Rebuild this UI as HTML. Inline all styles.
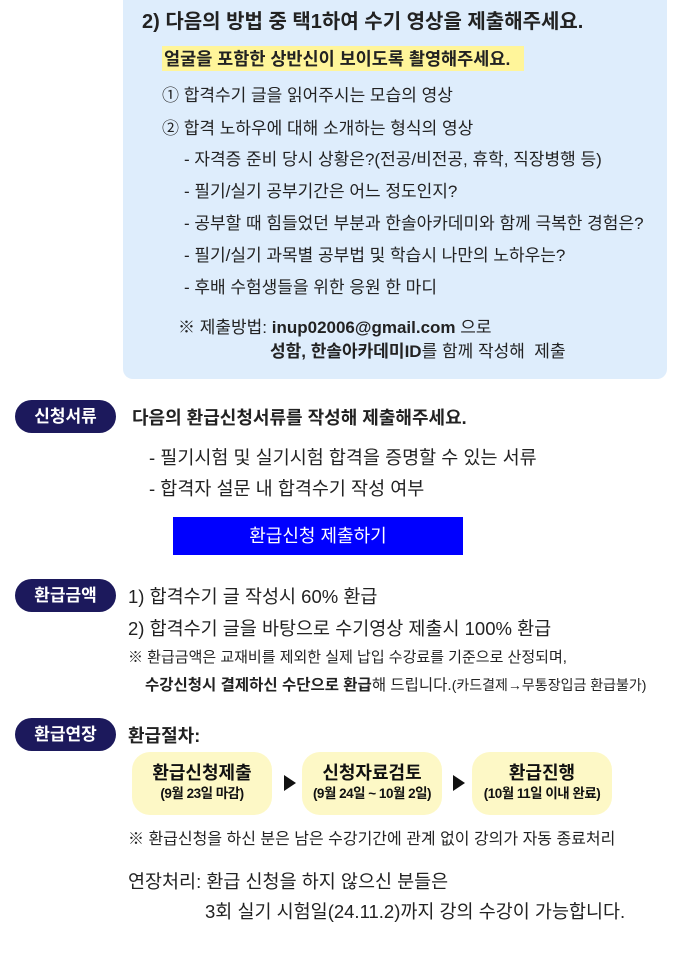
<!DOCTYPE html>
<html><head><meta charset="utf-8"><style>
*{margin:0;padding:0;box-sizing:border-box}
body{width:700px;height:968px;background:#fff;position:relative;overflow:hidden;font-family:"Liberation Sans","Noto Sans CJK KR",sans-serif;color:#222;letter-spacing:0}
.a{position:absolute;white-space:nowrap}
.b{font-weight:bold}
.box{position:absolute;left:123px;top:-10px;width:544px;height:389px;background:#deedfc;border-radius:10px}
.pill{position:absolute;left:15px;width:101px;height:33px;border-radius:17px;background:#1c195c;color:#fff;font-weight:bold;font-size:17px;text-align:center;line-height:33px}
.y{position:absolute;top:752px;width:140px;height:63px;border-radius:18px;background:#fdf8c6;text-align:center;color:#111}
.y .t{font-weight:bold;font-size:18px;margin-top:9px;line-height:24px}
.y .s{font-weight:bold;font-size:13.5px;line-height:18px;letter-spacing:-0.5px}
.tri{position:absolute;top:775px;width:0;height:0;border-left:12px solid #111;border-top:8px solid transparent;border-bottom:8px solid transparent}
</style></head><body>
<div class="box"></div>
<div class="a b" style="left:142px;top:5px;font-size:20px">2) 다음의 방법 중 택1하여 수기 영상을 제출해주세요.</div>
<div class="a b" style="left:162px;top:46px;font-size:17.5px;background:#fff59a;padding:0 14px 0 2px">얼굴을 포함한 상반신이 보이도록 촬영해주세요.</div>
<div class="a" style="left:162px;top:81px;font-size:17px">① 합격수기 글을 읽어주시는 모습의 영상</div>
<div class="a" style="left:162px;top:114px;font-size:17px">② 합격 노하우에 대해 소개하는 형식의 영상</div>
<div class="a" style="left:184px;top:145px;font-size:17px">- 자격증 준비 당시 상황은?(전공/비전공, 휴학, 직장병행 등)</div>
<div class="a" style="left:184px;top:177px;font-size:17px">- 필기/실기 공부기간은 어느 정도인지?</div>
<div class="a" style="left:184px;top:209px;font-size:17px">- 공부할 때 힘들었던 부분과 한솔아카데미와 함께 극복한 경험은?</div>
<div class="a" style="left:184px;top:241px;font-size:17px">- 필기/실기 과목별 공부법 및 학습시 나만의 노하우는?</div>
<div class="a" style="left:184px;top:273px;font-size:17px">- 후배 수험생들을 위한 응원 한 마디</div>
<div class="a" style="left:178px;top:313px;font-size:17px">※ 제출방법: <b>inup02006@gmail.com</b> 으로</div>
<div class="a" style="left:270px;top:337px;font-size:17px"><b>성함, 한솔아카데미ID</b>를 함께 작성해&nbsp; 제출</div>

<div class="pill" style="top:400px">신청서류</div>
<div class="a b" style="left:132px;top:404px;font-size:18px">다음의 환급신청서류를 작성해 제출해주세요.</div>
<div class="a" style="left:149px;top:444px;font-size:18.5px">- 필기시험 및 실기시험 합격을 증명할 수 있는 서류</div>
<div class="a" style="left:149px;top:475px;font-size:18.5px">- 합격자 설문 내 합격수기 작성 여부</div>
<div class="a" style="left:173px;top:517px;width:290px;height:38px;background:#0000ff;color:#fff;font-size:18px;text-align:center;line-height:38px">환급신청 제출하기</div>

<div class="pill" style="top:579px">환급금액</div>
<div class="a" style="left:128px;top:583px;font-size:18.5px">1) 합격수기 글 작성시 60% 환급</div>
<div class="a" style="left:128px;top:615px;font-size:18.5px">2) 합격수기 글을 바탕으로 수기영상 제출시 100% 환급</div>
<div class="a" style="left:128px;top:646px;font-size:15px">※ 환급금액은 교재비를 제외한 실제 납입 수강료를 기준으로 산정되며,</div>
<div class="a" style="left:145px;top:673px;font-size:15.5px"><b>수강신청시 결제하신 수단으로 환급</b>해 드립니다.<span style="font-size:14px">(카드결제→무통장입금 환급불가)</span></div>

<div class="pill" style="top:718px">환급연장</div>
<div class="a b" style="left:128px;top:722px;font-size:18px">환급절차:</div>
<div class="y" style="left:132px"><div class="t">환급신청제출</div><div class="s">(9월 23일 마감)</div></div>
<div class="tri" style="left:284px"></div>
<div class="y" style="left:302px"><div class="t">신청자료검토</div><div class="s">(9월 24일 ~ 10월 2일)</div></div>
<div class="tri" style="left:453px"></div>
<div class="y" style="left:472px"><div class="t">환급진행</div><div class="s">(10월 11일 이내 완료)</div></div>
<div class="a" style="left:128px;top:825px;font-size:16px">※ 환급신청을 하신 분은 남은 수강기간에 관계 없이 강의가 자동 종료처리</div>
<div class="a" style="left:128px;top:868px;font-size:18.5px">연장처리: 환급 신청을 하지 않으신 분들은</div>
<div class="a" style="left:205px;top:898px;font-size:18.5px">3회 실기 시험일(24.11.2)까지 강의 수강이 가능합니다.</div>
</body></html>
